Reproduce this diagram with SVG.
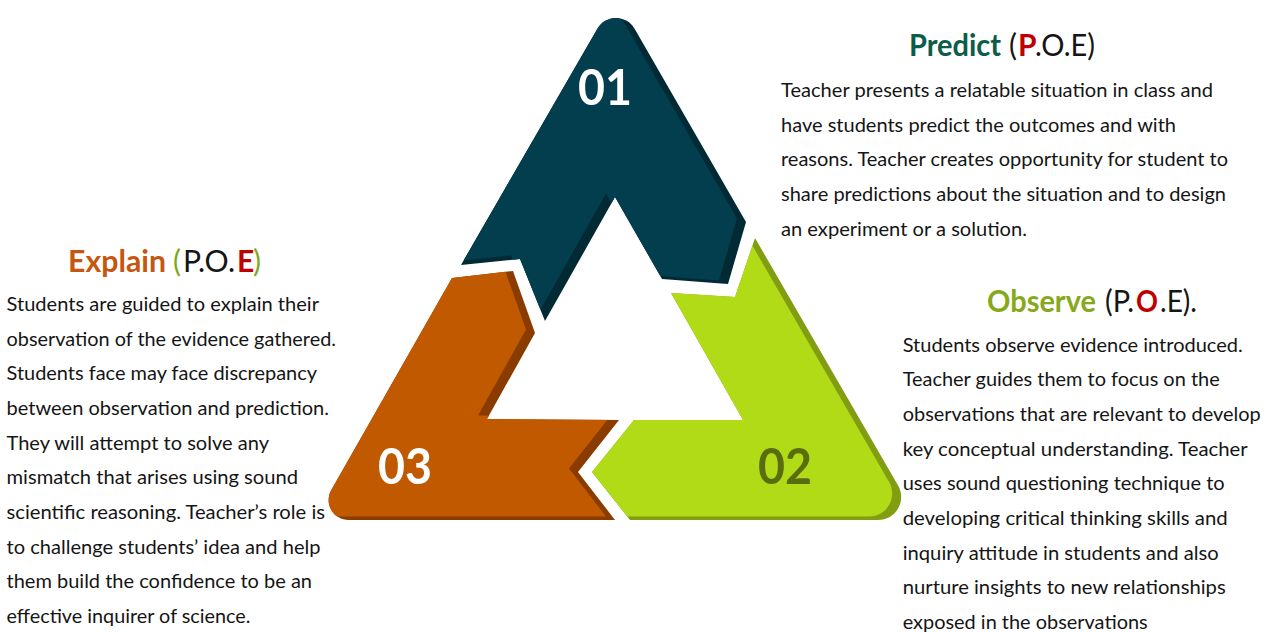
<svg xmlns="http://www.w3.org/2000/svg" xmlns:xlink="http://www.w3.org/1999/xlink" width="1276" height="632" viewBox="0 0 1276 632">
<style>
.body{font-family:Lato,"Open Sans","Liberation Sans",sans-serif;font-size:20px;fill:#151515}
.title{font-family:Lato,"Open Sans","Liberation Sans",sans-serif;font-size:30px;fill:#151515}
.b{font-weight:bold}
.red{fill:#C00000;font-weight:bold}
.pg{fill:#0B5C48}
.eo{fill:#C5570F}
.og{fill:#86A91B}
.lg{fill:#7FA81B}
.num{font-family:Lato,"Open Sans","Liberation Sans",sans-serif;font-size:50px;font-weight:bold}
</style>
<defs>
<path id="pBlue" d="M461,265 L597.4,28.7 A21.5,21.5 0 0 1 634.6,28.7 L746,222 L728,284 L662,279 L615,197 L545,321 L520,259 Z"/>
<path id="pGreen" d="M755,238 L898.1,485.5 A23,23 0 0 1 878.2,520 L630,520 L592,472 L634,420 L743,420 L671,293 L735,297 Z"/>
<path id="pOrange" d="M452,278 L513,271 L535,333 L487,419 L619,420 L578,472 L615,520 L348.6,520 A20,20 0 0 1 331.3,490 Z"/>
<clipPath id="cBlue"><use xlink:href="#pBlue"/></clipPath>
<clipPath id="cGreen"><use xlink:href="#pGreen"/></clipPath>
<clipPath id="cOrange"><use xlink:href="#pOrange"/></clipPath>
</defs>
<rect width="1276" height="632" fill="#ffffff"/>
<g id="node-01">
<use xlink:href="#pBlue" fill="#012A35"/>
<g clip-path="url(#cBlue)"><use xlink:href="#pBlue" fill="#033E4E" transform="translate(-9,-3.5)"/></g>
<text class="num" x="578" y="105" fill="#ffffff" textLength="54" lengthAdjust="spacingAndGlyphs">01</text>
</g>
<g id="node-02">
<use xlink:href="#pGreen" fill="#819E12"/>
<g clip-path="url(#cGreen)"><use xlink:href="#pGreen" fill="#B1DA17" transform="translate(-9,-3.5)"/></g>
<text class="num" x="758" y="484" fill="#5A6D0E" textLength="54" lengthAdjust="spacingAndGlyphs">02</text>
</g>
<g id="node-03">
<use xlink:href="#pOrange" fill="#8A3C00"/>
<g clip-path="url(#cOrange)"><use xlink:href="#pOrange" fill="#C05900" transform="translate(-9,-3.5)"/></g>
<text class="num" x="378" y="484" fill="#ffffff" textLength="54" lengthAdjust="spacingAndGlyphs">03</text>
</g>
<g id="connectors"></g>
<g id="predict-text">
<text class="title b pg" x="909" y="56" textLength="92" lengthAdjust="spacingAndGlyphs">Predict</text>
<text class="title" x="1009" y="56">(</text>
<text class="title red" x="1018" y="56">P</text>
<text class="title" x="1035" y="56" textLength="60" lengthAdjust="spacingAndGlyphs">.O.E)</text>
<text class="body" x="781" y="97" textLength="432" lengthAdjust="spacingAndGlyphs">Teacher presents a relatable situation in class and</text>
<text class="body" x="781" y="131.7" textLength="395" lengthAdjust="spacingAndGlyphs">have students predict the outcomes and with</text>
<text class="body" x="781" y="166.4" textLength="447" lengthAdjust="spacingAndGlyphs">reasons. Teacher creates opportunity for student to</text>
<text class="body" x="781" y="201" textLength="445" lengthAdjust="spacingAndGlyphs">share predictions about the situation and to design</text>
<text class="body" x="781" y="235.7" textLength="246" lengthAdjust="spacingAndGlyphs">an experiment or a solution.</text>
</g>
<g id="explain-text">
<text class="title b eo" x="68" y="272" textLength="98" lengthAdjust="spacingAndGlyphs">Explain</text>
<text class="title lg" x="173" y="272">(</text>
<text class="title" x="183" y="272" textLength="52" lengthAdjust="spacingAndGlyphs">P.O.</text>
<text class="title red" x="237" y="272">E</text>
<text class="title lg" x="253" y="272">)</text>
<text class="body" x="6.5" y="311" textLength="312.5" lengthAdjust="spacingAndGlyphs">Students are guided to explain their</text>
<text class="body" x="6.5" y="345.6" textLength="329.5" lengthAdjust="spacingAndGlyphs">observation of the evidence gathered.</text>
<text class="body" x="6.5" y="380.3" textLength="310.5" lengthAdjust="spacingAndGlyphs">Students face may face discrepancy</text>
<text class="body" x="6.5" y="414.9" textLength="322.5" lengthAdjust="spacingAndGlyphs">between observation and prediction.</text>
<text class="body" x="6.5" y="449.6" textLength="262.5" lengthAdjust="spacingAndGlyphs">They will attempt to solve any</text>
<text class="body" x="6.5" y="484.2" textLength="291.5" lengthAdjust="spacingAndGlyphs">mismatch that arises using sound</text>
<text class="body" x="6.5" y="518.9" textLength="318.5" lengthAdjust="spacingAndGlyphs">scientific reasoning. Teacher’s role is</text>
<text class="body" x="6.5" y="553.5" textLength="314" lengthAdjust="spacingAndGlyphs">to challenge students’ idea and help</text>
<text class="body" x="6.5" y="588.2" textLength="305.5" lengthAdjust="spacingAndGlyphs">them build the confidence to be an</text>
<text class="body" x="6.5" y="622.8" textLength="244" lengthAdjust="spacingAndGlyphs">effective inquirer of science.</text>
</g>
<g id="observe-text">
<text class="title b og" x="987" y="312" textLength="109" lengthAdjust="spacingAndGlyphs">Observe</text>
<text class="title" x="1105" y="312" textLength="29" lengthAdjust="spacingAndGlyphs">(P.</text>
<text class="title red" x="1136" y="312" textLength="22" lengthAdjust="spacingAndGlyphs">O</text>
<text class="title" x="1160" y="312" textLength="37" lengthAdjust="spacingAndGlyphs">.E).</text>
<text class="body" x="902.7" y="351.7" textLength="340" lengthAdjust="spacingAndGlyphs">Students observe evidence introduced.</text>
<text class="body" x="902.7" y="386.3" textLength="317" lengthAdjust="spacingAndGlyphs">Teacher guides them to focus on the</text>
<text class="body" x="902.7" y="421" textLength="358" lengthAdjust="spacingAndGlyphs">observations that are relevant to develop</text>
<text class="body" x="902.7" y="455.6" textLength="345" lengthAdjust="spacingAndGlyphs">key conceptual understanding. Teacher</text>
<text class="body" x="902.7" y="490.3" textLength="322" lengthAdjust="spacingAndGlyphs">uses sound questioning technique to</text>
<text class="body" x="902.7" y="524.9" textLength="325" lengthAdjust="spacingAndGlyphs">developing critical thinking skills and</text>
<text class="body" x="902.7" y="559.6" textLength="316" lengthAdjust="spacingAndGlyphs">inquiry attitude in students and also</text>
<text class="body" x="902.7" y="594.2" textLength="323" lengthAdjust="spacingAndGlyphs">nurture insights to new relationships</text>
<text class="body" x="902.7" y="628.9" textLength="245" lengthAdjust="spacingAndGlyphs">exposed in the observations</text>
</g>
</svg>
